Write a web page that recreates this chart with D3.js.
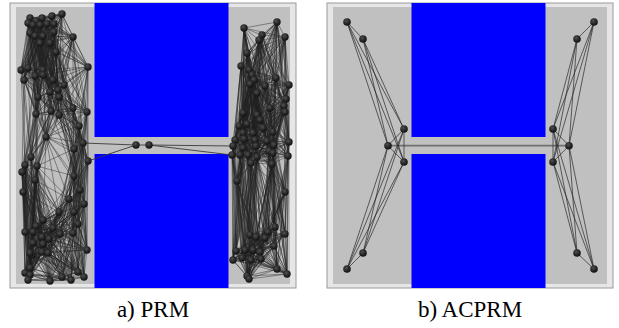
<!DOCTYPE html>
<html><head><meta charset="utf-8">
<script src="https://cdn.jsdelivr.net/npm/d3@7"></script>
<style>html,body{margin:0;padding:0;background:#fff;}svg{display:block;}</style>
</head><body>
<script>
// ---- data (environment units: frame 0..286 x 0..285) ----
const panelTitles = ["a) PRM", "b) ACPRM"];
const obstacles = [[84.5, 0, 218.5, 134], [84.5, 151, 218.5, 285]]; // x1,y1,x2,y2

const prmLeftNodes = [
 [20,15],[26,18],[32,15],[42,13],[52,11],
 [18,20],[23,22],[30,22],[37,21],[44,21],
 [20,30],[25,33],[33,33],[44,29],[63,34],
 [40,40],[30,40],[46,49],[78,64],
 [11,67],[18,65],[33,67],[25,73],[33,72],[14,77],[43,77],
 [54,82],[48,87],[40,89],[28,94],[49,94],
 [63,105],[77,109],[26,111],[41,108],[49,112],
 [69,123],[36,134],[73,140],[64,146],
 [78,158],[21,154],[15,162],[27,163],[12,169],[25,177],[64,173],
 [13,189],[70,187],[59,196],[74,201],[49,209],[64,209],
 [33,217],[26,223],[43,225],[68,221],
 [15,229],[23,229],[32,234],[39,236],[50,231],[63,230],
 [23,240],[33,241],[32,249],[38,250],[22,252],[20,250],[77,247],
 [20,265],[15,270],[20,272],[18,277],[40,278],[52,274],[61,277],[68,269],[74,274]
];
const prmRightNodes = [
 [234,25],[267,19],[275,34],[252,32],[249,37],
 [237,50],[231,63],[239,67],[242,72],[244,77],[266,75],[279,82],[240,81],[255,83],
 [247,90],[276,96],[274,103],[260,105],[275,109],[233,110],[247,112],[250,117],[237,121],[229,123],[253,125],
 [233,130],[243,130],[263,129],
 [225,137],[234,136],[245,137],[257,138],[279,139],
 [223,143],[233,145],[246,143],[264,142],
 [222,152],[230,152],[238,152],[247,154],[259,148],[263,150],[278,153],
 [241,160],[262,161],
 [227,178],[275,189],
 [265,224],[258,229],[275,231],[240,232],[246,234],[255,235],[264,243],
 [226,248],[235,247],[243,247],[250,249],
 [223,257],[232,255],[241,257],[251,256],
 [267,266],[237,273],[277,271],[239,276]
];
const prmCorridorNodes = [[126,142],[139,142]];

const acprmNodes = [
 [20,19],[36,36],[77,126],[61,142.7],[77,159],[36,250],[20,266],
 [267,19],[250,36],[226,126],[242,142.7],[226,159],[250,250],[267,266]
];
const acprmEdges = [
 [0,1],[0,2],[0,3],[0,4],[1,2],[1,3],[1,4],[2,3],[2,4],[3,4],
 [5,2],[5,3],[5,4],[6,2],[6,3],[6,4],[5,6],
 [7,8],[7,9],[7,10],[7,11],[8,9],[8,10],[8,11],[9,10],[9,11],[10,11],
 [12,9],[12,10],[12,11],[13,9],[13,10],[13,11],[12,13]
];
const acprmCorridorEdges = [[3,10]];

// ---- helpers ----
function knnEdges(pts, k, wx) {
  const set = new Set();
  pts.forEach((p, i) => {
    pts.map((q, j) => [j, Math.hypot((p[0]-q[0])*wx, p[1]-q[1])])
      .filter(e => e[0] !== i)
      .sort((a, b) => a[1] - b[1])
      .slice(0, k)
      .forEach(([j]) => set.add(i < j ? i + "-" + j : j + "-" + i));
  });
  return [...set].map(s => s.split("-").map(Number));
}

const W = 619, H = 328;
const svg = d3.select("body").append("svg").attr("width", W).attr("height", H);
const defs = svg.append("defs");
const grad = defs.append("radialGradient").attr("id", "ball").attr("cx", "40%").attr("cy", "35%").attr("r", "65%");
grad.append("stop").attr("offset", "0%").attr("stop-color", "#505050");
grad.append("stop").attr("offset", "60%").attr("stop-color", "#262626");
grad.append("stop").attr("offset", "100%").attr("stop-color", "#121212");

const panelX = [10, 327];

function drawPanel(i, nodes, edges, corridorEdges, edgeColor, edgeWidth, radius) {
  const x = d3.scaleLinear().domain([0, 286]).range([panelX[i], panelX[i] + 286]);
  const y = d3.scaleLinear().domain([0, 285]).range([3, 288]);
  const g = svg.append("g");
  g.append("rect").attr("x", x(0)).attr("y", y(0)).attr("width", x(286) - x(0)).attr("height", y(285) - y(0))
    .attr("fill", "#e6e6e6").attr("stroke", "#9a9a9a").attr("stroke-width", 1);
  g.append("rect").attr("x", x(6)).attr("y", y(4)).attr("width", x(280) - x(6)).attr("height", y(281) - y(4))
    .attr("fill", "#c0c0c0");
  g.selectAll("rect.obs").data(obstacles).join("rect").attr("class", "obs")
    .attr("x", d => x(d[0])).attr("y", d => y(d[1]))
    .attr("width", d => x(d[2]) - x(d[0])).attr("height", d => y(d[3]) - y(d[1]))
    .attr("fill", "#0000ff");
  g.selectAll("line.cor").data(corridorEdges).join("line").attr("class", "cor")
    .attr("x1", d => x(nodes[d[0]][0])).attr("y1", d => y(nodes[d[0]][1]))
    .attr("x2", d => x(nodes[d[1]][0])).attr("y2", d => y(nodes[d[1]][1]))
    .attr("stroke", i === 1 ? "#707070" : "#3a3a3a").attr("stroke-width", i === 1 ? 1.8 : 0.9);
  g.selectAll("line.e").data(edges).join("line").attr("class", "e")
    .attr("x1", d => x(nodes[d[0]][0])).attr("y1", d => y(nodes[d[0]][1]))
    .attr("x2", d => x(nodes[d[1]][0])).attr("y2", d => y(nodes[d[1]][1]))
    .attr("stroke", edgeColor).attr("stroke-width", edgeWidth);
  g.selectAll("circle").data(nodes).join("circle")
    .attr("cx", d => x(d[0])).attr("cy", d => y(d[1])).attr("r", radius)
    .attr("fill", "url(#ball)");
  svg.append("text").attr("x", x(143)).attr("y", 317).attr("text-anchor", "middle")
    .attr("font-family", "'Liberation Serif', 'Times New Roman', serif").attr("font-size", 23)
    .attr("fill", "#000").text(panelTitles[i]);
}

// PRM graph: nodes joined to nearest neighbours inside their own free region
const prmNodes = prmLeftNodes.concat(prmRightNodes, prmCorridorNodes);
const nL = prmLeftNodes.length, nR = prmRightNodes.length;
const prmEdges = [];
knnEdges(prmLeftNodes, 26, 2.5).forEach(e => prmEdges.push(e));
knnEdges(prmRightNodes, 26, 2.5).forEach(e => prmEdges.push([e[0] + nL, e[1] + nL]));
const c1 = nL + nR, c2 = nL + nR + 1;
const prmCorr = [[c1, c2]];
function nearestIn(p, arr, offset, k) {
  return arr.map((q, j) => [j + offset, Math.hypot(p[0]-q[0], p[1]-q[1])]).sort((a,b)=>a[1]-b[1]).slice(0,k).map(d=>d[0]);
}
nearestIn(prmCorridorNodes[0], prmLeftNodes, 0, 2).forEach(j => prmCorr.push([c1, j]));
nearestIn(prmCorridorNodes[1], prmRightNodes, nL, 2).forEach(j => prmCorr.push([c2, j]));

drawPanel(0, prmNodes, prmEdges, prmCorr, "rgba(35,35,35,0.68)", 0.65, 3.7);
drawPanel(1, acprmNodes, acprmEdges, acprmCorridorEdges, "rgba(35,35,35,0.85)", 0.8, 3.8);
</script>
</body></html>
